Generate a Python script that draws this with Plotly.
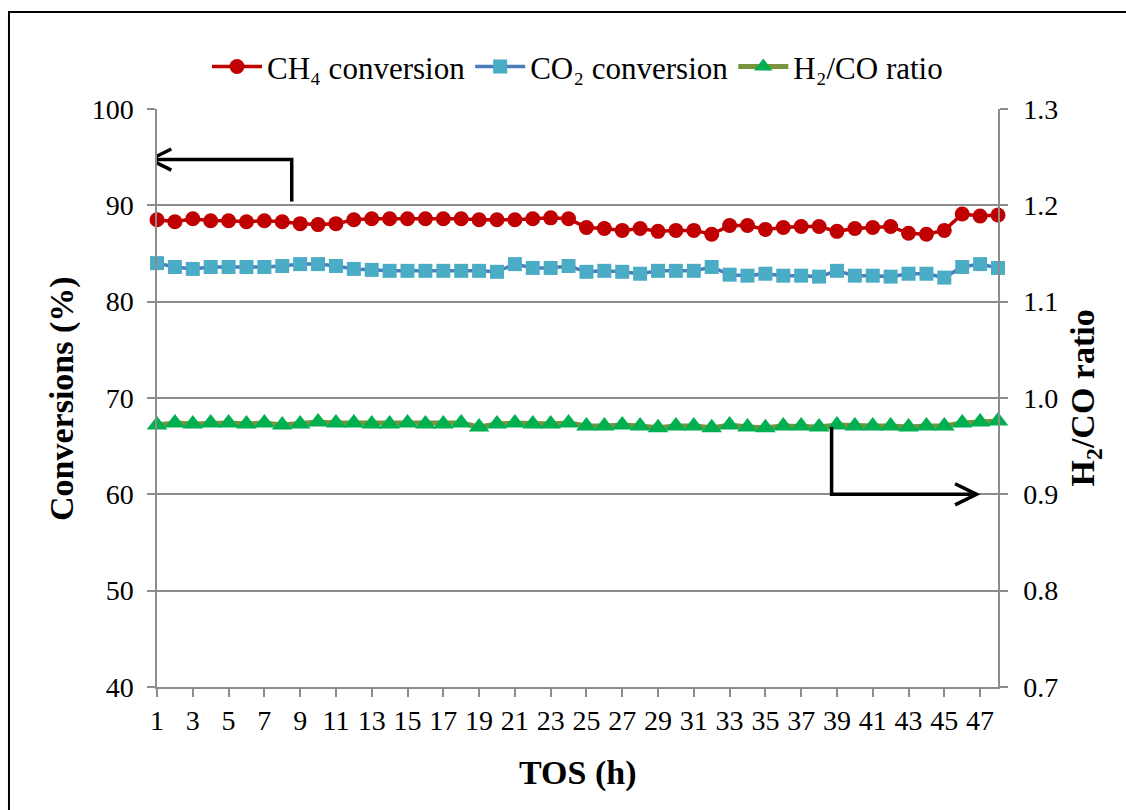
import plotly.graph_objects as go

# Time on stream (h)
tos = list(range(1, 49))

# CH4 conversion (%)
ch4_conv = [88.5, 88.3, 88.6, 88.4, 88.4, 88.3, 88.4, 88.3, 88.1, 88.0, 88.1, 88.5,
            88.6, 88.6, 88.6, 88.6, 88.6, 88.6, 88.5, 88.5, 88.5, 88.6, 88.7, 88.6,
            87.7, 87.6, 87.4, 87.6, 87.3, 87.4, 87.4, 87.0, 87.9, 87.9, 87.5, 87.7,
            87.8, 87.8, 87.3, 87.6, 87.7, 87.8, 87.1, 87.0, 87.4, 89.1, 88.9, 89.0]

# CO2 conversion (%)
co2_conv = [84.0, 83.6, 83.4, 83.6, 83.6, 83.6, 83.6, 83.7, 83.9, 83.9, 83.7, 83.4,
            83.3, 83.2, 83.2, 83.2, 83.2, 83.2, 83.2, 83.1, 83.9, 83.5, 83.5, 83.7,
            83.1, 83.2, 83.1, 82.9, 83.2, 83.2, 83.2, 83.6, 82.8, 82.7, 82.9, 82.7,
            82.7, 82.6, 83.2, 82.7, 82.7, 82.6, 82.9, 82.9, 82.5, 83.6, 83.9, 83.5]

# H2/CO molar ratio
h2_co = [0.972, 0.974, 0.973, 0.974, 0.974, 0.973, 0.974, 0.972, 0.973, 0.975, 0.974, 0.974,
         0.973, 0.973, 0.974, 0.973, 0.973, 0.974, 0.970, 0.973, 0.974, 0.973, 0.973, 0.974,
         0.971, 0.971, 0.972, 0.971, 0.969, 0.971, 0.971, 0.969, 0.972, 0.970, 0.969, 0.971,
         0.971, 0.970, 0.972, 0.971, 0.971, 0.971, 0.970, 0.971, 0.971, 0.974, 0.975, 0.976]

x_tick_vals = list(range(1, 48, 2))
left_ticks = [40, 50, 60, 70, 80, 90, 100]
right_ticks = [0.7, 0.8, 0.9, 1.0, 1.1, 1.2, 1.3]

FONT = "Times New Roman, Liberation Serif, DejaVu Serif, serif"
GRID = "#8c8c8c"

fig = go.Figure()

fig.add_trace(go.Scatter(
    x=tos, y=ch4_conv, name="CH₄ conversion", mode="lines+markers",
    line=dict(color="#c00000", width=3.5),
    marker=dict(symbol="circle", size=15, color="#c00000"),
    cliponaxis=False,
))
fig.add_trace(go.Scatter(
    x=tos, y=co2_conv, name="CO₂ conversion", mode="lines+markers",
    line=dict(color="#4a7ebb", width=3.5),
    marker=dict(symbol="square", size=14, color="#4bacc6"),
    cliponaxis=False,
))
fig.add_trace(go.Scatter(
    x=tos, y=h2_co, name="H₂/CO ratio", mode="lines+markers", yaxis="y2",
    line=dict(color="#77933c", width=5),
    marker=dict(symbol="triangle-up", size=18, color="#00b050"),
    cliponaxis=False,
))

# Guide arrows pointing to the axis each group of curves belongs to
arrow_style = dict(type="path", xref="x", yref="y", line=dict(color="black", width=3.5))
shapes = [
    # outer frame
    dict(type="rect", xref="paper", yref="paper", x0=-0.176, y0=-0.25, x1=1.2, y1=1.168,
         line=dict(color="black", width=2), layer="below"),
    # left arrow: up from the CH4 curve, then to the left axis
    dict(path="M 8.53,90.4 L 8.53,94.75 L 0.62,94.75", **arrow_style),
    dict(path="M 1.8,95.85 L 0.62,94.75 L 1.8,93.65", **arrow_style),
    # right arrow: down from the ratio curve, then to the right axis
    dict(path="M 38.7,67.0 L 38.7,60.0 L 46.8,60.0", **arrow_style),
    dict(path="M 45.6,61.1 L 46.8,60.0 L 45.6,58.9", **arrow_style),
]

title_font = dict(family=FONT, size=34, color="black")
annotations = [
    dict(text="<b>Conversions (%)</b>", xref="paper", yref="paper", x=-0.113, y=0.5,
         xanchor="center", yanchor="middle", textangle=-90, showarrow=False, font=title_font),
    dict(text="<b>H<sub>2</sub>/CO ratio</b>", xref="paper", yref="paper", x=1.104, y=0.5,
         xanchor="center", yanchor="middle", textangle=-90, showarrow=False, font=title_font),
    dict(text="<b>TOS (h)</b>", xref="paper", yref="paper", x=0.5, y=-0.149,
         xanchor="center", yanchor="middle", showarrow=False, font=title_font),
]

axis_common = dict(ticks="outside", ticklen=8, tickwidth=1.5, tickcolor=GRID,
                   showline=True, linecolor=GRID, linewidth=1.5, zeroline=False,
                   tickfont=dict(family=FONT, size=28, color="black"))

fig.update_layout(
    width=1126, height=810,
    margin=dict(l=157, r=128, t=109, b=123),
    paper_bgcolor="white", plot_bgcolor="white",
    font=dict(family=FONT, size=28, color="black"),
    showlegend=True,
    legend=dict(orientation="h", x=0.5, xanchor="center", y=1.073, yanchor="middle",
                font=dict(family=FONT, size=31, color="black"),
                bgcolor="rgba(0,0,0,0)", itemwidth=50, tracegroupgap=0),
    xaxis=dict(range=[1, 48], tickmode="array", tickvals=x_tick_vals,
               showgrid=False, **axis_common),
    yaxis=dict(range=[40, 100], tickmode="array", tickvals=left_ticks,
               showgrid=True, gridcolor=GRID, gridwidth=1.5,
               ticklabelstandoff=8, **axis_common),
    yaxis2=dict(range=[0.7, 1.3], tickmode="array", tickvals=right_ticks, tickformat=".1f",
                overlaying="y", side="right", showgrid=False,
                ticklabelstandoff=10, **axis_common),
    shapes=shapes,
    annotations=annotations,
)

fig.write_html("out.html")
